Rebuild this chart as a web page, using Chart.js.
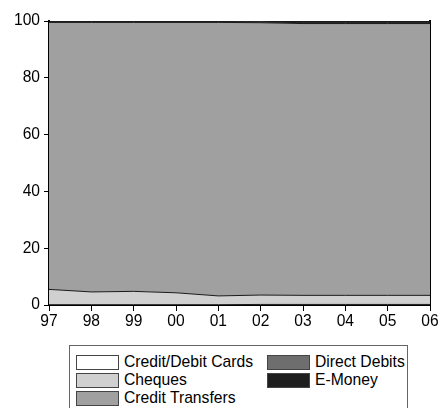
<!DOCTYPE html>
<html>
<head>
<meta charset="utf-8">
<script src="https://cdn.jsdelivr.net/npm/chart.js@4/dist/chart.umd.min.js"></script>
<style>
  body { margin: 0; background: #fff; font-family: "Liberation Sans", Arial, sans-serif; }
  #wrap { position: relative; width: 444px; height: 408px; overflow: hidden; }
  #chart { position: absolute; left: 0; top: 0; }
  #legend { position: absolute; left: 69px; top: 345px; width: 339px; height: 80px; border: 1px solid #666; box-sizing: border-box; }
  .item { position: absolute; display: flex; align-items: center; font-size: 15.7px; color: #000; height: 16px; }
  .sw { width: 41px; height: 13px; border: 1px solid #444; margin-right: 5px; }
</style>
</head>
<body>
<div id="wrap">
  <canvas id="chart" width="444" height="335"></canvas>
  <div id="legend"></div>
</div>
<script>
const years = ['97', '98', '99', '00', '01', '02', '03', '04', '05', '06'];
const seriesNames = ['Credit/Debit Cards', 'Cheques', 'Credit Transfers', 'Direct Debits', 'E-Money'];
const cards = [0.1, 0.1, 0.1, 0.1, 0.1, 0.2, 0.2, 0.2, 0.2, 0.2];
const cheques = [5.4, 4.5, 4.7, 4.2, 3.1, 3.3, 3.2, 3.2, 3.2, 3.2];
const creditTransfers = [94.0, 94.9, 94.7, 95.2, 96.3, 95.9, 95.7, 95.7, 95.7, 95.7];
const directDebits = [0.3, 0.3, 0.3, 0.3, 0.3, 0.3, 0.3, 0.3, 0.3, 0.3];
const eMoney = [0.2, 0.2, 0.2, 0.2, 0.2, 0.3, 0.6, 0.6, 0.6, 0.6];
const yTicks = [0, 20, 40, 60, 80, 100];

const colors = ['#ffffff', '#d0d0d0', '#a0a0a0', '#6e6e6e', '#1e1e1e'];
const values = [cards, cheques, creditTransfers, directDebits, eMoney];

const datasets = values.map((v, i) => ({
    label: seriesNames[i],
    data: v,
    backgroundColor: colors[i],
    borderColor: '#1a1a1a',
    borderWidth: 1,
    pointRadius: 0,
    tension: 0,
    fill: i === 0 ? 'origin' : '-1'
}));

const tickFont = { family: '"Liberation Sans", Arial, sans-serif', size: 15.6 };

new Chart(document.getElementById('chart'), {
    type: 'line',
    data: { labels: years, datasets },
    options: {
        responsive: false,
        animation: false,
        devicePixelRatio: 1,
        layout: { padding: { top: 21, right: 0, left: 0, bottom: 0 } },
        plugins: { legend: { display: false }, tooltip: { enabled: false } },
        scales: {
            x: {
                offset: false,
                grid: { display: true, drawOnChartArea: false, drawTicks: true, tickLength: 6, color: '#000', lineWidth: 1 },
                border: { display: true, color: '#000', width: 2 },
                ticks: { color: '#000', font: tickFont, maxRotation: 0, autoSkip: false, padding: 1 },
                afterFit: s => { s.height = 30; }
            },
            y: {
                stacked: true,
                min: 0, max: 100,
                afterBuildTicks: s => { s.ticks = yTicks.map(v => ({ value: v })); },
                grid: { display: true, drawOnChartArea: false, drawTicks: true, tickLength: 5, color: '#000', lineWidth: 1 },
                border: { display: true, color: '#000', width: 2 },
                ticks: { color: '#000', font: tickFont, padding: 4 },
                afterFit: s => { s.width = 49; }
            },
            yr: {
                position: 'right',
                min: 0, max: 100,
                grid: { display: false },
                border: { display: true, color: '#000', width: 2 },
                ticks: { display: false },
                afterFit: s => { s.width = 14; }
            }
        }
    }
});

// legend in two columns, column-first like the original
const legend = document.getElementById('legend');
const spots = [[6, 8], [6, 26], [6, 44], [197, 8], [197, 26]];
seriesNames.forEach((name, i) => {
    const el = document.createElement('div');
    el.className = 'item';
    el.style.left = spots[i][0] + 'px';
    el.style.top = spots[i][1] + 'px';
    el.innerHTML = `<span class="sw" style="background:${colors[i]}"></span><span>${name}</span>`;
    legend.appendChild(el);
});
</script>
</body>
</html>
